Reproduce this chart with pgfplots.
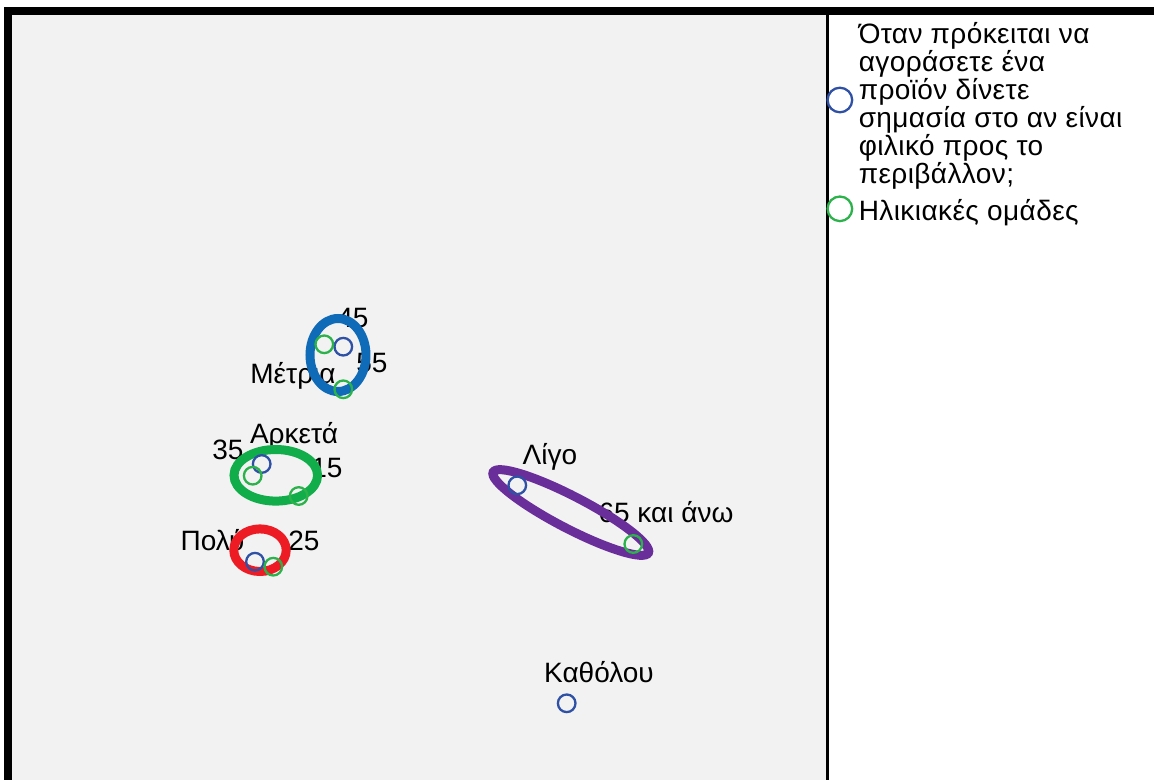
\documentclass[border=0pt]{standalone}
\usepackage{fontspec}
\setmainfont{Liberation Sans}
\newfontfamily\legfont[LetterSpace=1.5]{Liberation Sans}
\usepackage{pgfplots}
\pgfplotsset{compat=1.18}
\definecolor{ptblue}{RGB}{46,80,165}
\definecolor{ptgreen}{RGB}{44,178,75}
\definecolor{plotbg}{RGB}{242,242,242}
\definecolor{elblue}{RGB}{15,107,184}
\definecolor{elgreen}{RGB}{18,173,75}
\definecolor{elred}{RGB}{237,28,36}
\definecolor{elpurple}{RGB}{106,46,154}
\newcommand\labelfont{\fontsize{14bp}{16bp}\selectfont}
\pgfplotsset{mylegimg/.style={legend image code/.code={\draw[##1, mark size=6.15bp] plot coordinates {(0,0)};}}}
\begin{document}
\begin{tikzpicture}
\useasboundingbox (0,0) rectangle (577bp,390bp);
\clip (0,0) rectangle (577bp,390bp);
\begin{axis}[
  at={(6bp,0bp)}, anchor=south west,
  x=0.5bp, y=0.5bp,
  xmin=12, xmax=827.5, ymin=0, ymax=765,
  axis line style={draw=none}, ticks=none,
  axis background/.style={fill=plotbg},
  clip=false,
  legend style={at={(1.00012,1.0068)}, anchor=north west, draw=none, fill=none,
    inner sep=0pt, outer sep=0pt, row sep=0.35bp, column sep=3.3bp,
    nodes={inner sep=0pt, outer sep=0pt, text depth={}, text height={}},
    cells={anchor=west},
    font=\legfont\fontsize{14bp}{14bp}\selectfont},
]
% frame
\draw[line width=4bp, line join=miter] (axis cs:8,-20) -- (axis cs:8,769) -- (axis cs:1170,769);
\draw[line width=1.5bp] (axis cs:827.5,-20) -- (axis cs:827.5,767);
% labels
\node[anchor=base, inner sep=0pt, font=\labelfont] at (axis cs:353,453) {45};
\node[anchor=base, inner sep=0pt, font=\labelfont] at (axis cs:372,408) {55};
\node[anchor=base, inner sep=0pt, font=\labelfont] at (axis cs:293,397) {Μέτρια};
\node[anchor=base, inner sep=0pt, font=\labelfont] at (axis cs:294,337) {Αρκετά};
\node[anchor=base, inner sep=0pt, font=\labelfont] at (axis cs:228,321) {35};
\node[anchor=base, inner sep=0pt, font=\labelfont] at (axis cs:327,303) {15};
\node[anchor=base, inner sep=0pt, font=\labelfont] at (axis cs:212.5,230) {Πολύ};
\node[anchor=base, inner sep=0pt, font=\labelfont] at (axis cs:304,230) {25};
\node[anchor=base, inner sep=0pt, font=\labelfont] at (axis cs:550,316) {Λίγο};
\node[anchor=base, inner sep=0pt, font=\labelfont] at (axis cs:666,258) {65 και άνω};
\node[anchor=base, inner sep=0pt, font=\labelfont] at (axis cs:599,98) {Καθόλου};
% data
\addplot[only marks, mark=o, mark size=4.4bp, color=ptblue, line width=1.15bp, mylegimg]
  coordinates {(261.7,316) (343.3,433.3) (255,218.3) (517.3,294.7) (566.7,76.7)};
\addlegendentry{\parbox[c]{170bp}{\raggedright\rule{0pt}{17bp}Όταν πρόκειται να\\αγοράσετε ένα\\προϊόν δίνετε\\σημασία στο αν είναι\\φιλικό προς το\\περιβάλλον;\rule[-3.2bp]{0pt}{0pt}}}
\addplot[only marks, mark=o, mark size=4.4bp, color=ptgreen, line width=1.15bp, mylegimg]
  coordinates {(324.3,435.7) (343.3,390.7) (252.7,304.3) (298.7,284) (273.3,213.3) (633.3,236)};
\addlegendentry{\rule[-3.2bp]{0pt}{17.9bp}Ηλικιακές ομάδες}
% ellipses (drawn over points and labels)
\draw[elblue, line width=4.5bp] (axis cs:338,425) ellipse [x radius=14bp, y radius=18.25bp];
\draw[elgreen, line width=4.5bp] (axis cs:275.8,304.7) ellipse [x radius=20.9bp, y radius=12.9bp];
\draw[elred, line width=4.5bp] (axis cs:260,229.8) ellipse [x radius=13.1bp, y radius=10.65bp];
\draw[elpurple, line width=4.5bp] (axis cs:570.8,267.5) ellipse [x radius=43.75bp, y radius=8bp, rotate=-27.5];
\end{axis}
\end{tikzpicture}
\end{document}
